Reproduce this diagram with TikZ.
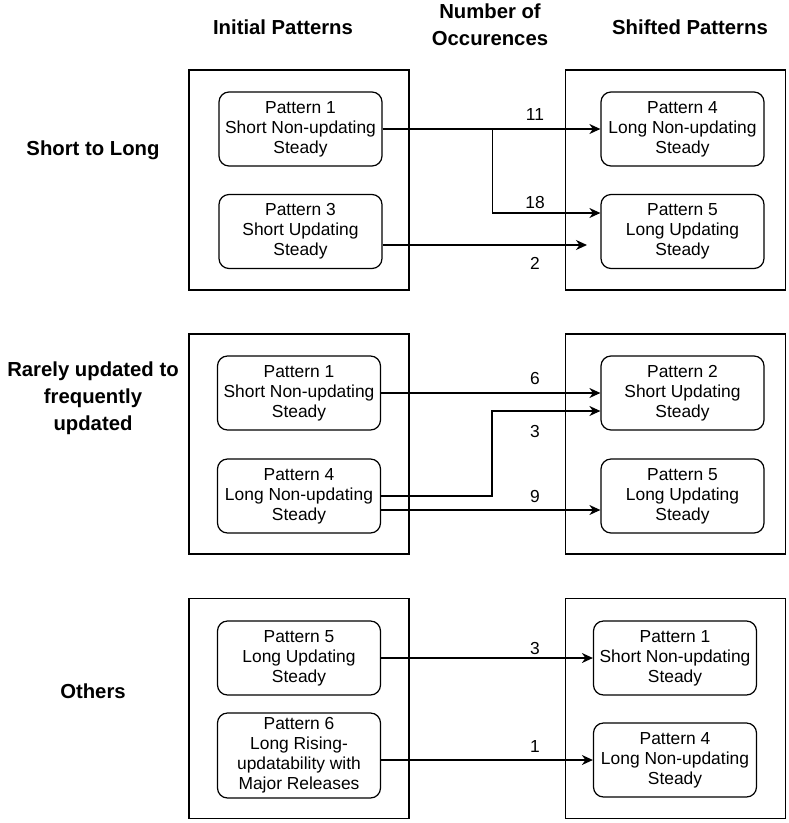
\documentclass[tikz,border=0pt]{standalone}
\usepackage{fontspec}
\setmainfont{Liberation Sans}
\usetikzlibrary{arrows.meta}

\tikzset{
  outerbox/.style={draw, line width=1.4pt, minimum width=220pt, minimum height=220pt, inner sep=0pt},
  patbox/.style={draw, line width=1.2pt, rounded corners=10pt, minimum width=163pt, minimum height=74pt,
    align=center, inner sep=0pt, font=\fontsize{17.4}{20}\selectfont},
  numlabel/.style={font=\fontsize{17.4}{20}\selectfont},
  headtext/.style={font=\bfseries\fontsize{20.3}{27}\selectfont, align=center},
  move/.style={line width=1.3pt, -{Stealth[length=11pt, width=10pt, inset=3.5pt]}},
}

\begin{document}
\begin{tikzpicture}[x=1pt, y=-1pt]

\useasboundingbox (0,0) rectangle (789,823);

% Column headers
\node[headtext] (hInit) at (283,27) {Initial Patterns};
\node[headtext] (hNum) at (490,25) {Number of\\Occurences};
\node[headtext] (hShift) at (690,27) {Shifted Patterns};

% Row labels
\node[headtext] (rShort) at (93,150) {Short to Long};
\node[headtext] (rRare) at (93,398) {Rarely updated to\\frequently\\updated};
\node[headtext] (rOther) at (93,691) {Others};

% Outer frames, one pair per row
\foreach \n\y in {A/180, B/444, C/708.5} {
  \node[outerbox] (\n L) at (299,\y) {};
  \node[outerbox] (\n R) at (675.5,\y) {};
}

% Short to Long
\node[patbox] (A1) at (300.5,129) {Pattern 1\\Short Non-updating\\Steady};
\node[patbox] (A3) at (300.5,231.5) {Pattern 3\\Short Updating\\Steady};
\node[patbox] (A4) at (682.5,129) {Pattern 4\\Long Non-updating\\Steady};
\node[patbox] (A5) at (682.5,231.5) {Pattern 5\\Long Updating\\Steady};

% Rarely updated to frequently updated
\node[patbox] (B1) at (299,393) {Pattern 1\\Short Non-updating\\Steady};
\node[patbox] (B4) at (299,496) {Pattern 4\\Long Non-updating\\Steady};
\node[patbox] (B2) at (682.5,393) {Pattern 2\\Short Updating\\Steady};
\node[patbox] (B5) at (682.5,496) {Pattern 5\\Long Updating\\Steady};

% Others
\node[patbox] (C5) at (299,658) {Pattern 5\\Long Updating\\Steady};
\node[patbox, minimum height=85pt] (C6) at (299,755.5) {Pattern 6\\Long Rising-\\updatability with\\Major Releases};
\node[patbox] (C1) at (675,658) {Pattern 1\\Short Non-updating\\Steady};
\node[patbox] (C4) at (675,760) {Pattern 4\\Long Non-updating\\Steady};

% Shifts between patterns
\coordinate (A3end) at (587,245);
\draw[move] (A1.east) -- (A4.west);
\draw[move] (A1.east) -- ++(110,0) |- ([yshift=18.5pt]A5.west);
\draw[move] (A1.east |- A3end) -- (A3end);

\draw[move] (B1.east) -- (B2.west);
\draw[move] (B4.east) -- ++(111,0) |- ([yshift=-18pt]B2.west);
\draw[move] ([yshift=-14pt]B4.east) -- ([yshift=-14pt]B5.west);

\draw[move] (C5.east) -- (C1.west);
\draw[move] (C6.east |- C4.west) -- (C4.west);

% Number of occurences
\foreach \i\y\t in {n11/115/11, n18/203/18, n2/263/2, n6/379/6, n3a/432/3, n9/497/9, n3b/649/3, n1/747/1} {
  \node[numlabel] (\i) at (535,\y) {\t};
}

\end{tikzpicture}
\end{document}
